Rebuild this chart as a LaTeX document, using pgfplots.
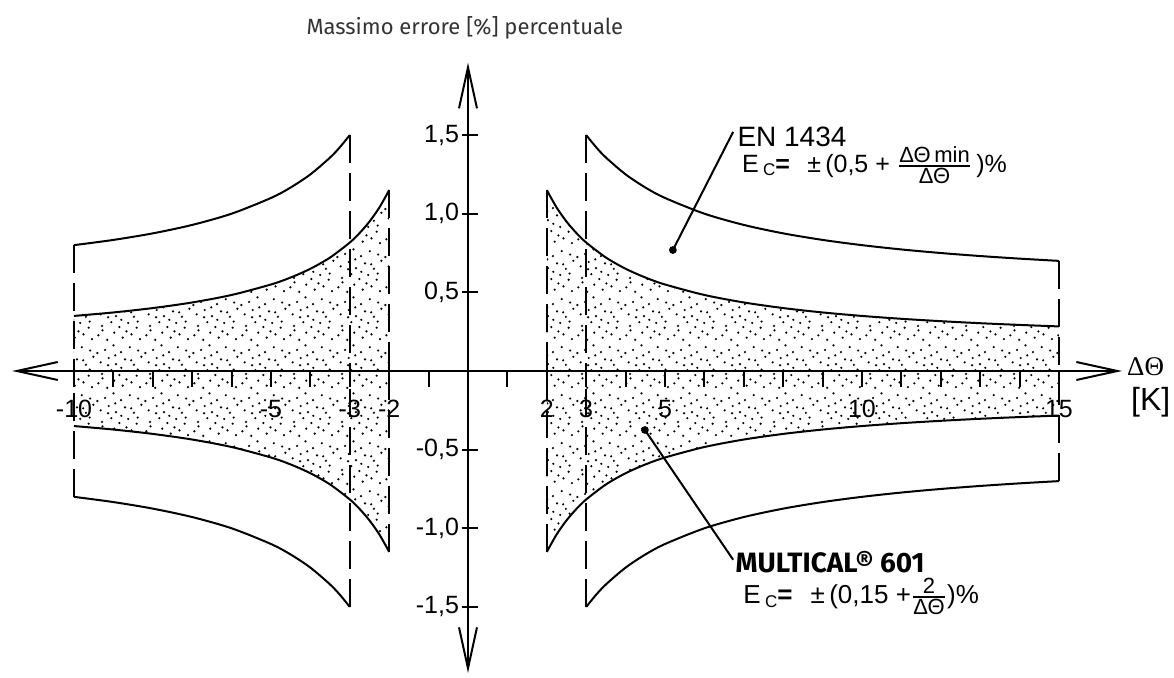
\documentclass[border=0pt]{standalone}
\usepackage{pgfplots}
\pgfplotsset{compat=1.18}
\usepackage{pgfplotstable}
\usepackage{amsmath}
\usepackage{fontspec}
\setmainfont{Liberation Sans}
\newfontfamily\fira{Fira Sans}
\newfontfamily\serifgr{Liberation Serif}
\usepgfplotslibrary{fillbetween}
\usetikzlibrary{arrows.meta,patterns.meta}
\definecolor{titlegray}{HTML}{333333}

% sparse stipple used between the MULTICAL limits
\tikzdeclarepattern{
  name=stipple,
  type=uncolored,
  bottom left={(0pt,0pt)},
  top right={(24pt,24pt)},
  tile size={(24pt,24pt)},
  code={
    \foreach \p in {(1.2,3.4),(5.7,1.1),(9.3,4.8),(13.6,2.2),(18.1,3.9),(22.4,1.5),
                    (3.1,8.2),(7.8,10.1),(11.9,7.6),(16.4,9.7),(20.7,7.3),(2.4,14.1),
                    (6.5,16.3),(10.2,13.2),(14.8,15.6),(19.3,12.8),(23.1,16.9),(4.6,20.4),
                    (8.9,22.7),(12.7,19.3),(17.2,21.8),(21.5,20.1),
                    (3.3,5.9),(15.5,5.4),(9.8,17.6),(21.2,10.4),(0.7,18.8),(12.9,11.3),
                    (17.9,15.1),(6.2,12.6)}
      {\fill[x=1pt,y=1pt] \p circle (0.62pt);}
  }
}

% MULTICAL 601: +-(0.15 + 2/dT)
\pgfplotstableread{
x up lo
2 1.15 -1.15
2.25 1.0389 -1.0389
2.5 0.95 -0.95
2.75 0.8773 -0.8773
3 0.8167 -0.8167
3.5 0.7214 -0.7214
4 0.65 -0.65
4.5 0.5944 -0.5944
5 0.55 -0.55
6 0.4833 -0.4833
7 0.4357 -0.4357
8 0.4 -0.4
9 0.3722 -0.3722
10 0.35 -0.35
11 0.3318 -0.3318
12 0.3167 -0.3167
13 0.3038 -0.3038
14 0.2929 -0.2929
15 0.2833 -0.2833
}\innerR
\pgfplotstableread{
x up lo
-10 0.35 -0.35
-9 0.3722 -0.3722
-8 0.4 -0.4
-7 0.4357 -0.4357
-6 0.4833 -0.4833
-5 0.55 -0.55
-4.5 0.5944 -0.5944
-4 0.65 -0.65
-3.5 0.7214 -0.7214
-3 0.8167 -0.8167
-2.75 0.8773 -0.8773
-2.5 0.95 -0.95
-2.25 1.0389 -1.0389
-2 1.15 -1.15
}\innerL
% EN 1434: +-(0.5 + 3/dT)
\pgfplotstableread{
x up lo
3 1.5 -1.5
3.25 1.4231 -1.4231
3.5 1.3571 -1.3571
4 1.25 -1.25
4.5 1.1667 -1.1667
5 1.1 -1.1
6 1.0 -1.0
7 0.9286 -0.9286
8 0.875 -0.875
9 0.8333 -0.8333
10 0.8 -0.8
11 0.7727 -0.7727
12 0.75 -0.75
13 0.7308 -0.7308
14 0.7143 -0.7143
15 0.7 -0.7
}\outerR
\pgfplotstableread{
x up lo
-10 0.8 -0.8
-9 0.8333 -0.8333
-8 0.875 -0.875
-7 0.9286 -0.9286
-6 1.0 -1.0
-5 1.1 -1.1
-4.5 1.1667 -1.1667
-4 1.25 -1.25
-3.5 1.3571 -1.3571
-3.25 1.4231 -1.4231
-3 1.5 -1.5
}\outerL

\begin{document}
\begin{tikzpicture}
\begin{axis}[
    x=19.7pt, y=78.65pt,
    xmin=-11.57, xmax=16.6,
    ymin=-1.92, ymax=1.96,
    enlargelimits=false,
    clip=false,
    axis lines=middle,
    axis line style={line width=1pt,
      arrows={Straight Barb[length=20.5pt,width=9pt]-Straight Barb[length=20.5pt,width=9pt]}},
    xtick={-10,-9,-8,-7,-6,-5,-4,-3,-2,-1,1,2,3,4,5,6,7,8,9,10,11,12,13,14,15},
    xticklabels={-10,,,,,-5,,-3,-2,,,2,3,,5,,,,,10,,,,,15},
    ytick={-1.5,-1,-0.5,0.5,1,1.5},
    yticklabels={{-1,5},{-1,0},{-0,5},{0,5},{1,0},{1,5}},
    major tick length=8pt,
    tick style={line width=1pt, black},
    xtick style={yshift=-4pt},
    ytick style={xshift=1pt},
    ticklabel style={font=\fontsize{12.5}{13}\selectfont},
    xticklabel style={anchor=north, yshift=-7pt},
    yticklabel style={anchor=east, xshift=3pt},
]
% page frame (1174 x 675 px at 0.5 pt per px)
\path (axis cs:-11.878,-1.9326) rectangle (axis cs:17.919,2.3586);

% stippled MULTICAL band
\addplot[draw=none, name path=iLu, smooth] table[x=x,y=up]{\innerL};
\addplot[draw=none, name path=iLl, smooth] table[x=x,y=lo]{\innerL};
\addplot[draw=none, name path=iRu, smooth] table[x=x,y=up]{\innerR};
\addplot[draw=none, name path=iRl, smooth] table[x=x,y=lo]{\innerR};
\addplot[pattern=stipple, draw=none] fill between[of=iLu and iLl];
\addplot[pattern=stipple, draw=none] fill between[of=iRu and iRl];

% curves
\pgfplotsset{cv/.style={black, line width=1pt, smooth, no marks}}
\addplot[cv] table[x=x,y=up]{\innerL};
\addplot[cv] table[x=x,y=lo]{\innerL};
\addplot[cv] table[x=x,y=up]{\innerR};
\addplot[cv] table[x=x,y=lo]{\innerR};
\addplot[cv] table[x=x,y=up]{\outerL};
\addplot[cv] table[x=x,y=lo]{\outerL};
\addplot[cv] table[x=x,y=up]{\outerR};
\addplot[cv] table[x=x,y=lo]{\outerR};

% dashed limits
\pgfplotsset{dl/.style={black, line width=1pt, dash pattern=on 14pt off 5pt, no marks}}
\addplot[dl] coordinates {(-10,0.8) (-10,0)};
\addplot[dl] coordinates {(-10,-0.8) (-10,0)};
\addplot[dl] coordinates {(-3,1.5) (-3,0)};
\addplot[dl] coordinates {(-3,-1.5) (-3,0)};
\addplot[dl] coordinates {(-2,1.15) (-2,0)};
\addplot[dl] coordinates {(-2,-1.15) (-2,0)};
\addplot[dl] coordinates {(2,1.15) (2,0)};
\addplot[dl] coordinates {(2,-1.15) (2,0)};
\addplot[dl] coordinates {(3,1.5) (3,0)};
\addplot[dl] coordinates {(3,-1.5) (3,0)};
\addplot[dl] coordinates {(15,0.7) (15,0)};
\addplot[dl] coordinates {(15,-0.7) (15,0)};

% leader lines
\addplot[black, line width=1pt, mark=*, mark size=1.4pt, mark indices={1}] coordinates {(5.2,0.769) (6.73,1.52)};
\addplot[black, line width=1pt, mark=*, mark size=1.4pt, mark indices={1}] coordinates {(4.49,-0.375) (6.73,-1.20)};

% texts
\node[anchor=base, font=\fira\fontsize{11}{12}\selectfont, text=titlegray] at (axis cs:-0.08,2.136) {Massimo errore [\%] percentuale};
\node[anchor=base west, inner sep=0pt, font=\fontsize{14}{15}\selectfont] at (axis cs:6.83,1.43) {EN 1434};
\node[anchor=base west, inner sep=0pt, font=\fontsize{12.5}{14}\selectfont] at (axis cs:6.95,1.265)
  {E\,\raisebox{-0.3ex}{\fontsize{8.5}{9}\selectfont C}\textbf{=}\hspace{0.7em}±\,(0,5 + $\genfrac{}{}{0.6pt}{}{\hbox{\fontsize{11}{12}\selectfont ΔΘ\,min}}{\hbox{\fontsize{11}{12}\selectfont ΔΘ}}$\,)\%};
\node[anchor=base west, inner sep=0pt, font=\fira\bfseries\fontsize{14}{15}\selectfont] at (axis cs:6.78,-1.283) {MULTICAL® 601};
\node[anchor=base west, inner sep=0pt, font=\fontsize{13}{14}\selectfont] at (axis cs:6.98,-1.475)
  {E\,\raisebox{-0.3ex}{\fontsize{8.5}{9}\selectfont C}\textbf{=}\hspace{0.7em}±\,(0,15 +$\genfrac{}{}{0.6pt}{}{\hbox{\fontsize{11}{12}\selectfont 2}}{\hbox{\fontsize{11}{12}\selectfont ΔΘ}}$)\%};
\node[anchor=base west, inner sep=0pt, font=\serifgr\fontsize{13.5}{14}\selectfont] at (axis cs:16.72,-0.03) {ΔΘ};
\node[anchor=base west, inner sep=0pt, font=\fontsize{16}{17}\selectfont] at (axis cs:16.82,-0.25) {[K]};
\end{axis}
\end{tikzpicture}
\end{document}
